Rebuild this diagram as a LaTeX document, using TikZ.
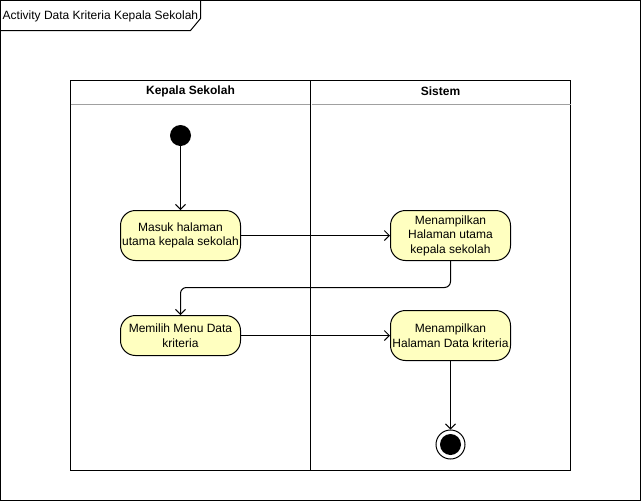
\documentclass[tikz,border=0pt]{standalone}
\usepackage{fontspec}
\setmainfont{Liberation Sans}
\usetikzlibrary{arrows.meta}
\definecolor{actfill}{HTML}{FFFFC0}
\definecolor{hdrline}{HTML}{A0A0A0}
\tikzset{
  act/.style={draw=black, fill=actfill, rounded corners=15pt, line width=1pt, align=center,
    font=\fontsize{12}{14.5}\selectfont, inner sep=0pt},
  flow/.style={draw=black, line width=1pt, -{Straight Barb[length=5pt,width=10pt]}},
  lane/.style={draw=black, line width=1pt},
  hdr/.style={font=\fontsize{12}{14}\selectfont\bfseries},
}
\begin{document}
\begin{tikzpicture}[x=1pt,y=-1pt]
\useasboundingbox (-0.5,-0.5) rectangle (640.5,500.5);
% outer frame
\draw[line width=1pt] (0,0) rectangle (640,500);
% title tab
\draw[line width=1pt] (0,30) -- (190,30) -- (200,18) -- (200,0);
\node[anchor=west, font=\fontsize{12}{14}\selectfont, inner sep=0pt] (title) at (2,16) {Activity Data Kriteria Kepala Sekolah};
% swimlanes
\draw[lane] (70,80) rectangle (310,470);
\draw[lane] (310,80) rectangle (570,470);
\draw[hdrline, line width=1pt] (70,104) -- (309,104);
\draw[hdrline, line width=1pt] (311,104) -- (570,104);
\node[hdr] (lane1) at (190,91) {Kepala Sekolah};
\node[hdr] (lane2) at (440,91) {Sistem};
% start
\node[circle, fill=black, minimum size=21pt, inner sep=0pt] (start) at (180,135) {};
% activities
\node[act, minimum width=120pt, minimum height=50pt] (a1) at (180,235) {Masuk halaman\\utama kepala sekolah};
\node[act, minimum width=120pt, minimum height=50pt] (a2) at (450,235) {Menampilkan\\Halaman utama\\kepala sekolah};
\node[act, minimum width=120pt, minimum height=40pt] (a3) at (180,335) {Memilih Menu Data\\kriteria};
\node[act, minimum width=120pt, minimum height=50pt] (a4) at (450,335) {Menampilkan\\Halaman Data kriteria};
% end
\node[circle, draw=black, line width=1pt, fill=white, minimum size=29pt, inner sep=0pt] (endo) at (450,444) {};
\node[circle, fill=black, minimum size=21pt, inner sep=0pt] (endi) at (450,444) {};
% flows
\draw[flow] (start) -- (a1);
\draw[flow] (a1) -- (a2);
\draw[flow, rounded corners=6pt] (a2.south) -- (450,287) -- (180,287) -- (a3.north);
\draw[flow] (a3) -- (a4.west |- a3);
\draw[flow] (a4) -- (endo);
\end{tikzpicture}
\end{document}
